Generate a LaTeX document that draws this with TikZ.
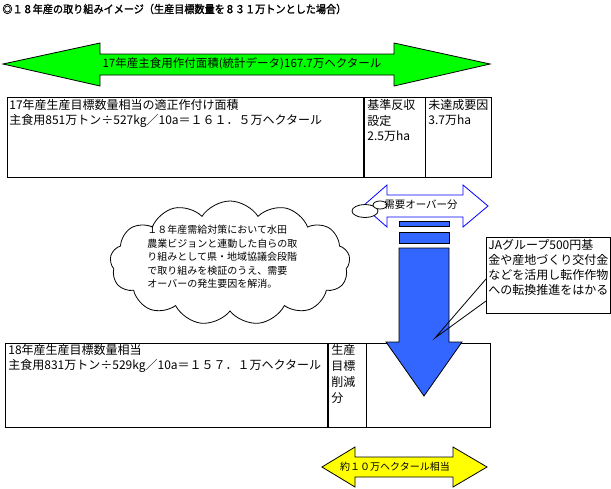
\documentclass[tikz,border=0pt]{standalone}
\usepackage{fontspec}
\setmainfont{Noto Sans CJK JP}
\newfontfamily\titlefont{Noto Sans CJK JP}[FakeBold=1.5,FakeStretch=0.92]
\definecolor{kimidori}{HTML}{00FF00}
\definecolor{aoiro}{HTML}{3366FF}
\definecolor{konjo}{HTML}{0000FF}
\definecolor{kiiro}{HTML}{FFFF00}
\usetikzlibrary{shapes.symbols,shapes.geometric}
\newcommand\honbun{\fontsize{12}{14}\selectfont}
\newcommand\kogaki{\fontsize{10}{12}\selectfont}

\begin{document}
\begin{tikzpicture}[x=1pt,y=-1pt,line width=0.8pt,
    moji/.style={anchor=west,inner sep=0pt},
    awa/.style={ellipse,draw,fill=white,inner sep=0pt}]
  \useasboundingbox (0,0) rectangle (611,488);

  \node[moji,font=\titlefont\fontsize{11}{13}\selectfont] (title) at (2,9) {◎１８年産の取り組みイメージ（生産目標数量を８３１万トンとした場合）};

  \draw[fill=kimidori] (3,64) -- (100,43) -- (100,54) -- (394,54) -- (394,43) -- (490,64)
    -- (394,86) -- (394,75) -- (100,75) -- (100,86) -- cycle;
  \node[font=\fontsize{11.5}{14}\selectfont,inner sep=0pt] (menseki) at (242,64) {17年産主食用作付面積(統計データ)167.7万ヘクタール};

  \draw (7,97) rectangle (364,177);
  \draw (364,97) rectangle (425,177);
  \draw (425,97) rectangle (491,177);
  \draw[line width=2pt] (364,97) -- (364,177);
  \foreach \y/\lbl [count=\i] in {105/17年産生産目標数量相当の適正作付け面積, 120.5/主食用851万トン÷527kg／10a＝１６１．５万ヘクタール}
    \node[moji,font=\honbun] (ue\i) at (9,\y) {\lbl};
  \foreach \y/\lbl [count=\i] in {105/基準反収, 120.5/設定, 136/2.5万ha}
    \node[moji,font=\honbun] (kijun\i) at (367,\y) {\lbl};
  \foreach \y/\lbl [count=\i] in {105/未達成要因, 120.5/3.7万ha}
    \node[moji,font=\honbun] (mitatsu\i) at (428,\y) {\lbl};

  \node[cloud,draw,fill=white,cloud puffs=13,cloud puff arc=115,cloud ignores aspect,
    minimum width=240pt,minimum height=124pt,inner sep=0pt] (kumo) at (230,263) {};
  \foreach \y/\lbl [count=\i] in {230/１８年産需給対策において水田, 243.5/農業ビジョンと連動した自らの取,
      257/り組みとして県・地域協議会段階, 271/で取り組みを検証のうえ、需要, 284/オーバーの発生要因を解消。}
    \node[moji,font=\kogaki] (kumo\i) at (147,\y) {\lbl};

  \draw[draw=konjo,fill=white] (363,206) -- (387,185) -- (387,195) -- (463,195) -- (463,185) -- (488,206)
    -- (463,227) -- (463,217) -- (387,217) -- (387,227) -- cycle;
  \node[awa,minimum width=26pt,minimum height=13pt] (awa1) at (365,211) {};
  \node[awa,minimum width=14pt,minimum height=8pt] (awa2) at (380,205) {};
  \node[font=\fontsize{10.5}{12}\selectfont,inner sep=0pt] (juyo) at (421,205) {需要オーバー分};

  \draw (5,343) rectangle (328,427);
  \draw (328,343) rectangle (366,427);
  \draw (366,343) rectangle (490,427);
  \draw[line width=2pt] (328,343) -- (328,427);
  \foreach \y/\lbl [count=\i] in {350/18年産生産目標数量相当, 366/主食用831万トン÷529kg／10a＝１５７．１万ヘクタール}
    \node[moji,font=\honbun] (shita\i) at (8,\y) {\lbl};
  \foreach \y/\lbl [count=\i] in {350/生産, 366/目標, 382/削減, 398/分}
    \node[moji,font=\honbun] (sakugen\i) at (331,\y) {\lbl};

  \draw[fill=aoiro] (399,221) rectangle (449,226);
  \draw[fill=aoiro] (399,232) rectangle (449,243);
  \draw[fill=aoiro] (399,248) -- (399,342) -- (386,342) -- (424,396) -- (462,342) -- (449,342)
    -- (449,248) -- cycle;

  \node[draw,fill=white,anchor=north west,minimum width=124pt,minimum height=76pt,inner sep=0pt] (jabox) at (486,237) {};
  \coordinate (saki) at (435,338);
  \draw ([yshift=-42pt]jabox.north west) -- (saki) -- ([yshift=-64pt]jabox.north west);
  \foreach \y/\lbl [count=\i] in {245/JAグループ500円基, 260/金や産地づくり交付金, 275/などを活用し転作作物, 290/への転換推進をはかる}
    \node[moji,font=\honbun] (ja\i) at (488,\y) {\lbl};

  \draw[fill=kiiro] (322,467) -- (355,447) -- (355,457) -- (453,457) -- (453,447) -- (487,467)
    -- (453,487) -- (453,477) -- (355,477) -- (355,487) -- cycle;
  \node[font=\kogaki,inner sep=0pt] (yaku) at (395,467) {約１０万ヘクタール相当};
\end{tikzpicture}
\end{document}
